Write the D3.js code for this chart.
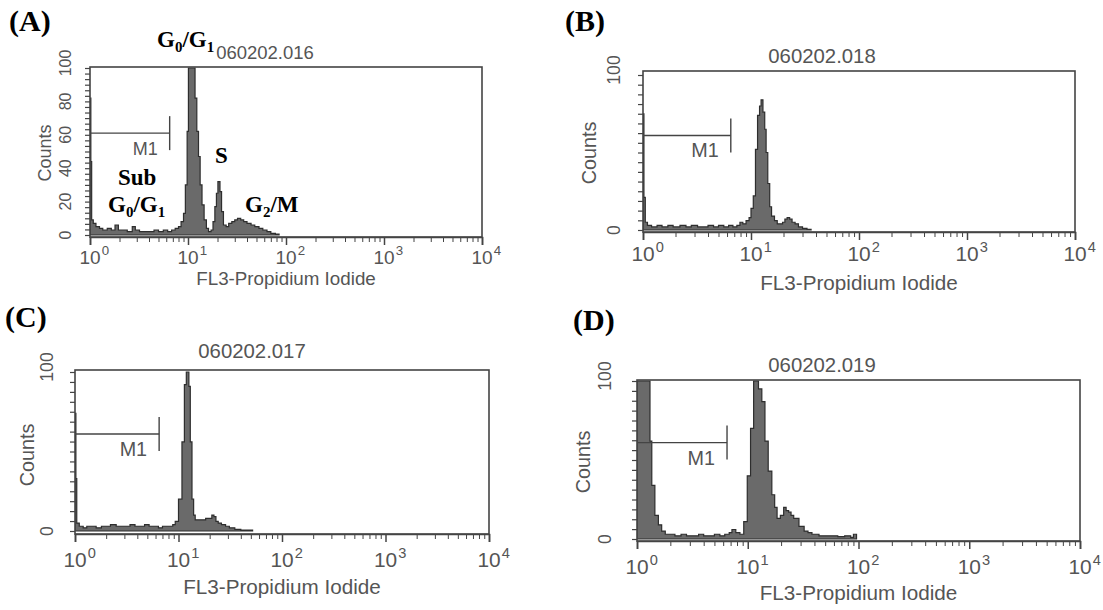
<!DOCTYPE html>
<html>
<head>
<meta charset="utf-8">
<script src="https://cdn.jsdelivr.net/npm/d3@7"></script>
<style type="text/css">
  body{
    margin: 0;
    background: white;
  }
  .axis path{
    stroke: #444;
  }
  .axis line{
    stroke: #444;
  }
  .lbl{
    fill: #555;
    font-family: 'Liberation Sans', Arial, sans-serif;
  }
  .big{
    fill: black;
    font-family: 'Liberation Serif', 'Times New Roman', serif;
    font-weight: bold;
  }
</style>
</head>
<body>
<svg id="chart" width="1103" height="610"></svg>
<script>

// ---- data (FL3 channel value, counts) ----
var fl3A = [1.00, 1.02, 1.04, 1.08, 1.15, 1.25, 1.35, 1.5, 1.65, 1.8, 1.95, 2.1, 2.4, 2.7, 2.9, 3.2, 3.6, 4.0, 4.5, 5.0, 5.6, 6.2, 6.8, 7.4, 8.0, 8.5, 9.0, 9.4, 9.8, 10.1, 10.6, 11.8, 12.3, 12.8, 13.3, 13.9, 14.6, 15.4, 16.2, 17.2, 18.0, 18.8, 19.5, 20.2, 21.2, 22.0, 23.0, 24.5, 26.0, 28.0, 30.0, 32.0, 34.5, 37.0, 40.0, 44.0, 48.0, 53.0, 58.0, 64.0, 70.0, 78.0, 85.0];
var cntA = [82, 44, 9, 7, 5, 4, 3, 4, 3, 6, 3, 3, 2, 5, 3, 2, 2, 2, 3, 2, 3, 2, 3, 4, 5, 8, 13, 30, 62, 100, 100, 82, 62, 47, 30, 18, 9, 4, 2, 3, 8, 17, 25, 32, 26, 14, 6, 5, 7, 8, 9, 10, 9, 8, 7, 6, 5, 4, 3, 2, 1, 0.5, 0];

var fl3B = [1.00, 1.02, 1.05, 1.1, 1.2, 1.35, 1.5, 1.7, 1.9, 2.2, 2.5, 2.8, 3.2, 3.6, 4.0, 4.5, 5.0, 5.6, 6.2, 6.8, 7.4, 7.9, 8.4, 9.0, 9.6, 10.0, 10.5, 11.0, 11.5, 12.0, 12.4, 12.9, 13.4, 13.8, 14.3, 14.9, 15.5, 16.5, 17.5, 18.5, 19.6, 20.6, 21.6, 22.8, 24.0, 25.6, 27.5, 30.0, 33.0, 36.0];
var cntB = [75, 21, 5, 3, 2, 3, 2, 3, 2, 3, 2, 3, 2, 2, 3, 2, 3, 2, 3, 2, 3, 5, 4, 6, 8, 14, 22, 52, 74, 80, 84, 76, 65, 50, 30, 15, 9, 6, 4, 4, 5, 7, 8, 7, 5, 4, 2, 1, 0.5, 0];

var fl3C = [1.00, 1.02, 1.04, 1.1, 1.2, 1.3, 1.45, 1.6, 1.8, 2.0, 2.2, 2.5, 2.8, 3.1, 3.4, 3.8, 4.2, 4.7, 5.2, 5.8, 6.4, 7.0, 7.6, 8.2, 8.8, 9.3, 10.0, 10.8, 11.4, 11.9, 12.6, 13.0, 13.5, 14.0, 14.5, 15.5, 16.9, 18.3, 19.6, 21.0, 22.0, 23.0, 24.2, 26.0, 28.5, 31.0, 35.0, 40.0, 45.0, 52.0];
var cntC = [74, 33, 5, 3, 2, 3, 3, 2, 3, 3, 4, 3, 3, 3, 4, 3, 3, 4, 3, 3, 2, 3, 3, 3, 4, 6, 20, 56, 92, 100, 91, 56, 20, 10, 7, 7, 7, 8, 8, 10, 9, 6, 5, 4, 3, 2, 1, 0.5, 0.5, 0];

var fl3D = [1.00, 1.05, 1.1, 1.2, 1.26, 1.31, 1.36, 1.45, 1.56, 1.67, 1.8, 2.0, 2.2, 2.5, 2.8, 3.2, 3.6, 4.0, 4.5, 5.0, 5.6, 6.2, 6.8, 7.2, 7.8, 8.5, 9.2, 9.9, 10.6, 11.3, 12.5, 13.4, 14.3, 15.3, 16.5, 17.5, 18.4, 19.7, 21.1, 22.2, 23.4, 24.6, 26.0, 29.0, 32.3, 35.0, 38.0, 44.0, 50.0, 57.0, 65.0, 75.0, 85.0, 90.0, 96.0];
var cntD = [100, 100, 100, 100, 100, 62, 34, 15, 9, 5, 3, 3, 2, 3, 2, 2, 3, 2, 2, 3, 2, 3, 4, 6, 4, 3, 11, 40, 70, 100, 95, 87, 62, 43, 28, 20, 13, 15, 20, 18, 17, 15, 13, 8, 5, 4, 3, 2, 2, 2, 1.5, 2, 1, 3, 0];

// ticks, titles, gate
var xDecades = [1, 10, 100, 1000, 10000];
var yTicksA = [0, 20, 40, 60, 80, 100];
var yTicksBCD = [0, 100];
var sampleIds = ["060202.016", "060202.018", "060202.017", "060202.019"];
var panelLetters = ["(A)", "(B)", "(C)", "(D)"];
var gateM1 = [1, 6.5];   // FL3 range of marker M1
var gateLevel = 61;      // counts height the marker is drawn at

var svg = d3.select("#chart");

// layout of each panel (pixel boxes); fs = font scale of the panel
var panels = [
  { fl3: fl3A, cnt: cntA, yTicks: yTicksA, minor: 100/30, fs: 1.0,
    left: 90, right: 482, top: 67, bottom: 237, y100: 68, y0: 235,
    letter: [9, 31], title: [265, 59], counts: [45, 153], yLab: 65,
    tickLab: 27, xLab: 48 },
  { fl3: fl3B, cnt: cntB, yTicks: yTicksBCD, minor: 6.25, fs: 1.1,
    left: 643, right: 1075, top: 71, bottom: 232, y100: 75, y0: 230,
    letter: [565, 31], title: [822, 63], counts: [589, 153], yLab: 614,
    tickLab: 29, xLab: 58 },
  { fl3: fl3C, cnt: cntC, yTicks: yTicksBCD, minor: 6.25, fs: 1.1,
    left: 75, right: 489, top: 370, bottom: 534, y100: 372, y0: 531,
    letter: [5, 327], title: [252, 358], counts: [27, 455], yLab: 47,
    tickLab: 33, xLab: 60 },
  { fl3: fl3D, cnt: cntD, yTicks: yTicksBCD, minor: 6.25, fs: 1.1,
    left: 637, right: 1080, top: 380, bottom: 541, y100: 381, y0: 539,
    letter: [573, 330], title: [822, 372], counts: [583, 462], yLab: 605,
    tickLab: 33, xLab: 59 }
];

var minorX = [];
xDecades.slice(0, 4).forEach(function(d) {
  for (var k = 2; k <= 9; k++) minorX.push(d * k);
});

panels.forEach(function(p, i) {

  var x = d3.scaleLog().domain([1, 10000]).range([p.left, p.right]);
  var y = d3.scaleLinear().domain([0, 100]).range([p.y0, p.y100]);

  var g = svg.append("g");

  // clip to frame
  g.append("clipPath").attr("id", "clip" + i)
    .append("rect")
    .attr("x", p.left).attr("y", p.top)
    .attr("width", p.right - p.left).attr("height", p.bottom - p.top);

  var data = p.fl3.map(function(v, j) { return { fl3: v, cnt: p.cnt[j] }; });

  var area = d3.area()
    .x(function(d) { return x(d.fl3); })
    .y0(y(0))
    .y1(function(d) { return y(d.cnt); })
    .curve(d3.curveStepAfter);

  g.append("path")
    .datum(data)
    .attr("clip-path", "url(#clip" + i + ")")
    .attr("d", area)
    .attr("fill", "#6a6a6a")
    .attr("stroke", "#2e2e2e")
    .attr("stroke-width", 1.2);

  // frame
  g.append("rect")
    .attr("x", p.left).attr("y", p.top)
    .attr("width", p.right - p.left).attr("height", p.bottom - p.top)
    .attr("fill", "none")
    .attr("stroke", "#444")
    .attr("stroke-width", 1.6);

  // x axis: decades + minor
  var xMinor = d3.axisBottom(x).tickValues(minorX).tickSize(5).tickFormat("");
  g.append("g").attr("class", "axis")
    .attr("transform", "translate(0," + p.bottom + ")")
    .call(xMinor)
    .call(function(s) { s.select(".domain").remove(); });

  var xMajor = d3.axisBottom(x).tickValues(xDecades).tickSize(8).tickFormat("");
  var xa = g.append("g").attr("class", "axis")
    .attr("transform", "translate(0," + p.bottom + ")")
    .call(xMajor);
  xa.select(".domain").attr("stroke-width", 1.6);
  xa.selectAll(".tick line").attr("stroke-width", 1.5);

  var base = 19 * p.fs;
  xDecades.forEach(function(d) {
    g.append("text").attr("class", "lbl")
      .attr("x", x(d))
      .attr("y", p.bottom + p.tickLab)
      .attr("text-anchor", "middle")
      .style("font-size", base + "px")
      .text("10");
    g.append("text").attr("class", "lbl")
      .attr("x", x(d) + base * 0.56 + 1)
      .attr("y", p.bottom + p.tickLab - base * 0.45)
      .style("font-size", (base * 0.7) + "px")
      .text(Math.round(Math.log10(d)));
  });

  // y axis
  var yMinor = d3.axisLeft(y).tickValues(d3.range(0, 100.01, p.minor)).tickSize(5).tickFormat("");
  var ya = g.append("g").attr("class", "axis")
    .attr("transform", "translate(" + p.left + ",0)")
    .call(yMinor);
  ya.select(".domain").remove();
  ya.selectAll(".tick line").attr("stroke-width", 1.2);

  p.yTicks.forEach(function(v) {
    g.append("text").attr("class", "lbl")
      .attr("transform", "translate(" + p.yLab + "," + (y(v) - (v == 100 ? 5 : 0)) + ") rotate(-90)")
      .attr("text-anchor", "middle")
      .attr("dominant-baseline", "central")
      .style("font-size", (16 * p.fs) + "px")
      .text(v);
  });

  g.append("text").attr("class", "lbl")
    .attr("transform", "translate(" + p.counts[0] + "," + p.counts[1] + ") rotate(-90)")
    .attr("text-anchor", "middle")
    .attr("dominant-baseline", "central")
    .style("font-size", (18 * p.fs) + "px")
    .text("Counts");

  g.append("text").attr("class", "lbl")
    .attr("x", (p.left + p.right) / 2)
    .attr("y", p.bottom + p.xLab)
    .attr("text-anchor", "middle")
    .style("font-size", (18.8 * p.fs) + "px")
    .text("FL3-Propidium Iodide");

  g.append("text").attr("class", "lbl")
    .attr("x", p.title[0]).attr("y", p.title[1])
    .attr("text-anchor", "middle")
    .style("font-size", (18.5 * p.fs) + "px")
    .text(sampleIds[i]);

  g.append("text").attr("class", "big")
    .attr("x", p.letter[0]).attr("y", p.letter[1])
    .style("font-size", "30px")
    .text(panelLetters[i]);

  // marker M1
  var gx1 = x(gateM1[1]);
  g.append("line")
    .attr("x1", x(gateM1[0])).attr("x2", gx1)
    .attr("y1", y(gateLevel)).attr("y2", y(gateLevel))
    .attr("stroke", "#444").attr("stroke-width", 1.4);
  g.append("line")
    .attr("x1", gx1).attr("x2", gx1)
    .attr("y1", y(gateLevel) - 17).attr("y2", y(gateLevel) + 17)
    .attr("stroke", "#444").attr("stroke-width", 1.4);
  g.append("text").attr("class", "lbl")
    .attr("x", gx1 - 12).attr("y", y(gateLevel) + 22)
    .attr("text-anchor", "end")
    .style("font-size", (18 * p.fs) + "px")
    .text("M1");
});

// phase annotations on panel A
function phase(px, py, parts) {
  var t = svg.append("text").attr("class", "big")
    .attr("x", px).attr("y", py)
    .style("font-size", "23px");
  var lowered = false;
  parts.forEach(function(s) {
    if (typeof s === "object") {
      t.append("tspan").attr("dy", 5).style("font-size", "15px").text(s.sub);
      lowered = true;
    } else {
      t.append("tspan").attr("dy", lowered ? -5 : 0).text(s);
      lowered = false;
    }
  });
}
phase(157, 47, ["G", {sub: "0"}, "/G", {sub: "1"}]);
phase(215, 163, ["S"]);
phase(118, 185, ["Sub"]);
phase(108, 212, ["G", {sub: "0"}, "/G", {sub: "1"}]);
phase(245, 212, ["G", {sub: "2"}, "/M"]);

</script>
</body>
</html>
